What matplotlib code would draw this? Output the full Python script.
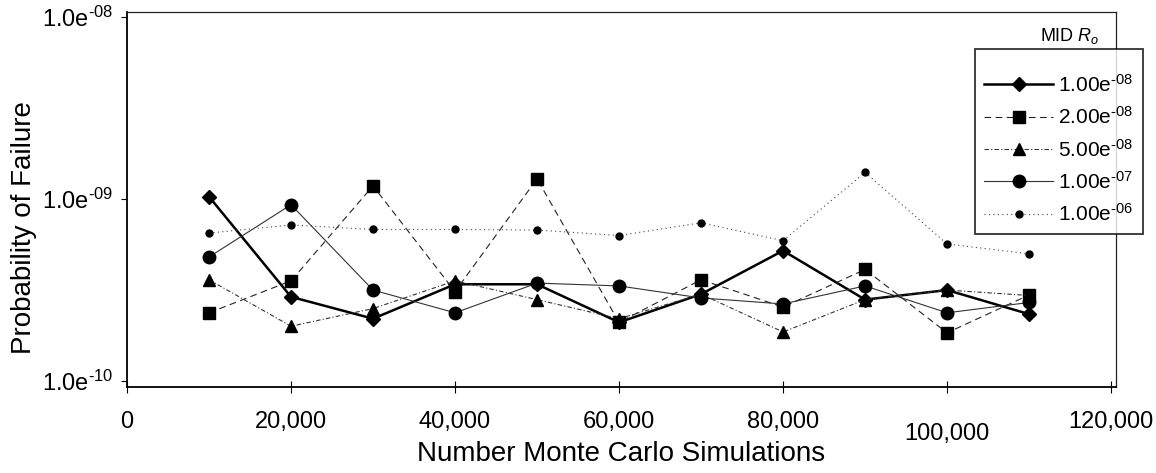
import matplotlib
matplotlib.use('Agg')
import matplotlib.pyplot as plt
import matplotlib.ticker as mticker
import matplotlib.transforms as mtransforms

plt.rcParams['font.family'] = ['Liberation Sans', 'DejaVu Sans']
plt.rcParams['mathtext.fontset'] = 'custom'
plt.rcParams['mathtext.rm'] = 'Liberation Sans'
plt.rcParams['mathtext.it'] = 'Liberation Sans:italic'

# Данные
simulations = [10000, 20000, 30000, 40000, 50000, 60000, 70000, 80000, 90000, 100000, 110000]
ro_1e08 = [1.03e-9, 2.9e-10, 2.2e-10, 3.4e-10, 3.4e-10, 2.1e-10, 3.0e-10, 5.2e-10, 2.8e-10, 3.16e-10, 2.33e-10]
ro_2e08 = [2.37e-10, 3.55e-10, 1.18e-9, 3.1e-10, 1.29e-9, 2.1e-10, 3.6e-10, 2.55e-10, 4.1e-10, 1.84e-10, 2.97e-10]
ro_5e08 = [3.6e-10, 2.0e-10, 2.5e-10, 3.55e-10, 2.8e-10, 2.2e-10, 3.0e-10, 1.86e-10, 2.8e-10, 3.16e-10, 2.95e-10]
ro_1e07 = [4.8e-10, 9.3e-10, 3.16e-10, 2.37e-10, 3.45e-10, 3.33e-10, 2.86e-10, 2.65e-10, 3.33e-10, 2.37e-10, 2.7e-10]
ro_1e06 = [6.5e-10, 7.2e-10, 6.8e-10, 6.8e-10, 6.75e-10, 6.3e-10, 7.4e-10, 5.9e-10, 1.4e-9, 5.66e-10, 5.0e-10]
series_labels = [r'1.00e$^{\text{-08}}$', r'2.00e$^{\text{-08}}$', r'5.00e$^{\text{-08}}$',
                 r'1.00e$^{\text{-07}}$', r'1.00e$^{\text{-06}}$']
x_ticks = [0, 20000, 40000, 60000, 80000, 100000, 120000]
y_ticks = [1e-10, 1e-9, 1e-8]
y_tick_labels = [r'1.0e$^{\text{-10}}$', r'1.0e$^{\text{-09}}$', r'1.0e$^{\text{-08}}$']

fig = plt.figure(figsize=(11.56, 4.73), dpi=100)
ax = fig.add_axes([127 / 1156, 1 - 387 / 473, (1116 - 127) / 1156, (387 - 12) / 473])

mk = dict(mfc='black', mec='black')
ax.plot(simulations, ro_1e08, color='black', lw=1.8, marker='D', ms=7, label=series_labels[0], **mk)
ax.plot(simulations, ro_2e08, color='#222222', lw=0.8, ls=(0, (6, 4)), marker='s', ms=8, label=series_labels[1], **mk)
ax.plot(simulations, ro_5e08, color='#333333', lw=0.8, ls=(0, (4, 2, 1, 2)), marker='^', ms=9, label=series_labels[2], **mk)
ax.plot(simulations, ro_1e07, color='#333333', lw=0.8, ls='-', marker='o', ms=9, label=series_labels[3], **mk)
ax.plot(simulations, ro_1e06, color='#444444', lw=0.8, ls=(0, (1, 3)), marker='o', ms=5, label=series_labels[4], **mk)

ax.set_yscale('log')
ax.set_ylim(9.27e-11, 1.065e-8)
ax.set_xlim(0, 120600)
ax.set_yticks(y_ticks)
ax.set_yticklabels(y_tick_labels)
ax.yaxis.set_minor_locator(mticker.NullLocator())
ax.set_xticks(x_ticks)
ax.xaxis.set_major_formatter(mticker.FuncFormatter(lambda v, p: f'{int(v):,}'))
ax.tick_params(axis='x', direction='inout', length=8, labelsize=17, pad=13)
ax.tick_params(axis='y', direction='out', length=4, labelsize=17, pad=6)

# метка 100,000 в оригинале чуть ниже остальных
for lbl in ax.get_xticklabels():
    if lbl.get_text() == '100,000':
        lbl.set_transform(lbl.get_transform() + mtransforms.ScaledTranslation(0, -9 / 72, fig.dpi_scale_trans))

for side in ['left', 'bottom']:
    ax.spines[side].set_linewidth(1.3)
for side in ['top', 'right']:
    ax.spines[side].set_linewidth(0.9)
    ax.spines[side].set_color('#222222')

ax.set_xlabel('Number Monte Carlo Simulations', fontsize=20, va='top')
ax.xaxis.set_label_coords(0.5, -(441 - 387) / 375)
ax.set_ylabel('Probability of Failure', fontsize=20, va='center')
ax.yaxis.set_label_coords(-(127 - 24) / 989, 0.425)

leg = fig.legend(loc='upper left', bbox_to_anchor=(975 / 1156, 1 - 49 / 473), fontsize=15,
                 title=' ', title_fontsize=4,
                 frameon=True, fancybox=False, edgecolor='black', handlelength=3.3,
                 borderpad=0.45, labelspacing=0.5, handletextpad=0.25, borderaxespad=0)
leg.get_frame().set_linewidth(1.3)
fig.text(1070 / 1156, 1 - 36 / 473, 'MID $R_o$', fontsize=13, ha='center', va='center')

plt.savefig('out.png', dpi=100)
